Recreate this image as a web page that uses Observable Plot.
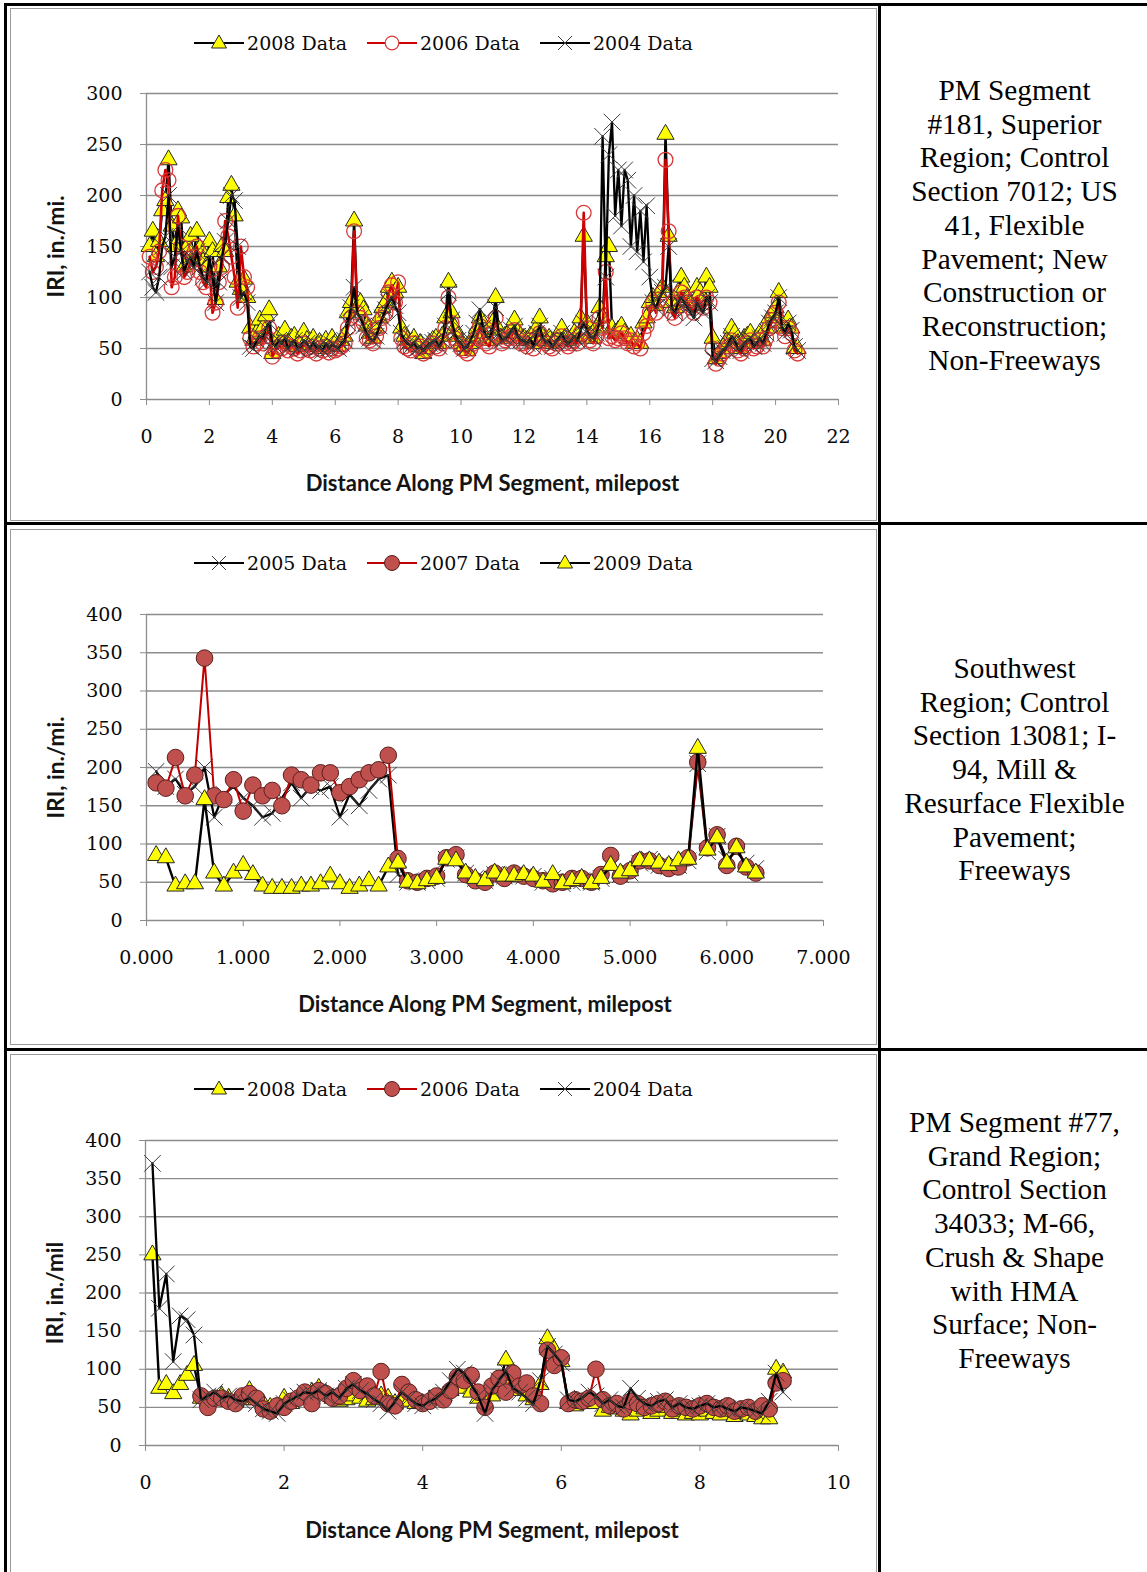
<!DOCTYPE html>
<html><head><meta charset="utf-8">
<script src="https://cdn.jsdelivr.net/npm/d3@7"></script>
<script src="https://cdn.jsdelivr.net/npm/@observablehq/plot@0.6"></script>
<style>
body{margin:0;background:#fff;}
#page{position:relative;width:1147px;height:1572px;overflow:hidden;background:#fff;}
.outer{position:absolute;left:4px;top:3px;width:1200px;height:1700px;border:3px solid #000;box-sizing:border-box;}
.vline{position:absolute;left:878px;top:3px;width:3px;height:1700px;background:#000;}
.hline{position:absolute;left:4px;width:1200px;height:3px;background:#000;}
.box{position:absolute;left:10px;width:867px;border:1px solid #9a9a9a;box-sizing:border-box;background:#fff;}
.legend{position:absolute;left:0;right:0;height:24px;display:flex;justify-content:center;align-items:center;font-family:"DejaVu Serif";font-size:19px;color:#0a0a0a;white-space:nowrap;}
.item{display:flex;align-items:center;margin:0 10px;}
.item svg{display:block;margin-right:3px;}
.plot{position:absolute;left:0;}
.desc{position:absolute;left:881px;width:267px;text-align:center;font-family:"Liberation Serif";font-size:29.3px;line-height:33.7px;color:#000;}
</style>
</head><body>
<div id="page">
  <div class="outer"></div>
  <div class="vline"></div>
  <div class="hline" style="top:522px"></div>
  <div class="hline" style="top:1048px"></div>
  <div class="box" id="box1" style="top:8px;height:513px"></div>
  <div class="box" id="box2" style="top:529px;height:516px"></div>
  <div class="box" id="box3" style="top:1054px;height:600px"></div>
  <div class="desc" style="top:74px">PM Segment<br>#181, Superior<br>Region; Control<br>Section 7012; US<br>41, Flexible<br>Pavement; New<br>Construction or<br>Reconstruction;<br>Non-Freeways</div>
  <div class="desc" style="top:652px">Southwest<br>Region; Control<br>Section 13081; I-<br>94, Mill &amp;<br>Resurface Flexible<br>Pavement;<br>Freeways</div>
  <div class="desc" style="top:1106px">PM Segment #77,<br>Grand Region;<br>Control Section<br>34033; M-66,<br>Crush &amp; Shape<br>with HMA<br>Surface; Non-<br>Freeways</div>
</div>
<script>
// ---------- Chart 1: PM Segment #181 (milepost 0.1 .. 20.7, every 0.1) ----------
const c1Labels = ["2008 Data", "2006 Data", "2004 Data"];
const c1XTicks = [0, 2, 4, 6, 8, 10, 12, 14, 16, 18, 20, 22];
const c1YTicks = [0, 50, 100, 150, 200, 250, 300];
const c1_2008 = [
 150,165,140,155,185,195,235,170,150,185,
 178,130,150,160,140,165,148,135,130,155,
 145,98,130,150,145,198,210,180,115,108,
 118,100,70,58,65,78,70,82,88,45,
 55,62,58,68,55,60,62,52,58,66,
 58,54,60,52,56,50,58,54,60,55,
 52,58,62,85,95,175,90,95,88,72,
 65,60,70,80,90,95,110,115,105,110,
 70,62,58,55,60,52,55,45,50,55,
 58,60,55,62,80,115,85,70,62,55,
 52,48,55,62,70,80,65,60,58,75,
 100,68,60,62,65,70,78,65,62,60,
 58,62,55,70,80,62,58,60,55,58,
 62,70,60,58,60,65,62,80,160,75,
 62,60,70,90,80,140,150,70,65,68,
 72,65,60,62,55,58,55,75,80,95,
 100,92,105,110,260,160,95,90,105,120,
 110,100,95,92,110,105,98,120,110,60,
 40,45,50,55,60,70,65,55,50,60,
 62,65,55,60,65,58,70,80,85,90,
 105,75,70,78,70,50,50];
const c1_2006 = [
 140,125,130,145,205,225,215,110,120,180,
 150,120,125,135,140,150,125,115,110,130,
 85,95,115,130,175,160,140,120,90,150,
 120,110,60,52,55,60,55,62,70,42,
 48,52,50,55,48,52,50,45,48,55,
 50,48,52,45,50,48,52,46,50,48,
 50,52,55,70,80,165,85,80,75,60,
 58,55,62,70,80,85,105,112,95,115,
 60,52,50,48,55,50,52,45,48,52,
 55,52,50,55,70,100,75,60,55,50,
 48,45,50,55,60,72,60,55,52,65,
 80,62,55,58,60,62,68,60,55,55,
 52,58,50,60,65,58,55,52,50,55,
 58,62,55,52,55,58,55,65,183,70,
 58,55,62,80,70,125,60,62,58,60,
 65,60,55,58,52,55,50,65,72,85,
 95,85,98,105,235,165,85,80,95,105,
 100,95,90,85,100,95,90,100,95,50,
 35,40,45,48,52,58,55,48,45,50,
 55,58,50,52,58,52,60,70,78,85,
 95,70,62,70,65,48,45];
const c1_2004 = [
 125,110,105,120,150,160,200,130,140,170,
 145,125,135,140,130,145,130,120,115,140,
 120,95,115,140,155,175,200,195,150,100,
 105,95,52,50,58,62,60,70,75,55,
 52,58,55,60,50,55,58,50,52,58,
 55,50,56,50,52,48,55,50,54,52,
 50,55,58,75,90,110,85,80,72,65,
 60,58,62,72,80,88,95,100,92,85,
 65,58,55,52,56,50,52,48,52,55,
 56,58,52,58,72,105,78,65,58,55,
 50,52,58,65,75,88,70,62,60,68,
 90,65,58,60,62,68,72,62,58,58,
 55,60,52,65,72,60,56,58,52,56,
 60,65,58,55,58,62,58,68,75,68,
 62,60,65,75,258,120,240,272,180,225,
 170,225,215,150,200,145,185,135,190,120,
 95,90,100,105,110,150,90,85,95,100,
 95,90,85,80,95,90,85,100,95,40,
 38,42,48,50,55,62,58,50,48,55,
 58,60,52,55,60,55,65,75,80,85,
 100,72,65,75,68,52,48];

// ---------- Chart 2: Southwest Region, CS 13081 (milepost 0.1 .. 6.3) ----------
const c2Labels = ["2005 Data", "2007 Data", "2009 Data"];
const c2XTicks = [0, 1, 2, 3, 4, 5, 6, 7];
const c2YTicks = [0, 50, 100, 150, 200, 250, 300, 350, 400];
const c2_2005 = [
 195,175,185,165,175,200,135,165,175,160,
 150,135,140,160,180,160,175,170,175,135,
 165,150,170,185,190,60,50,50,52,55,
 80,82,62,55,52,60,58,60,58,58,
 50,55,48,50,52,50,55,70,60,62,
 75,80,72,70,72,78,205,90,110,80,
 90,75,68];
const c2_2007 = [
 180,173,213,163,190,343,163,158,184,143,
 177,163,170,150,190,184,177,193,193,167,
 175,184,193,197,216,81,52,50,55,58,
 82,86,60,52,50,62,55,62,58,55,
 52,48,50,55,55,50,60,85,58,65,
 78,78,72,68,70,82,207,95,112,72,
 97,70,62];
const c2_2009 = [
 85,82,45,48,48,158,62,45,62,72,
 60,45,42,42,42,45,45,48,58,48,
 42,45,52,45,70,75,50,48,52,55,
 80,78,62,55,52,62,58,58,60,58,
 50,60,48,52,55,48,55,72,62,65,
 78,78,75,72,78,80,225,92,108,75,
 95,70,62];

// ---------- Chart 3: PM Segment #77 (milepost 0.1 .. 9.2) ----------
const c3Labels = ["2008 Data", "2006 Data", "2004 Data"];
const c3XTicks = [0, 2, 4, 6, 8, 10];
const c3YTicks = [0, 50, 100, 150, 200, 250, 300, 350, 400];
const c3_2008 = [
 250,75,80,68,80,92,105,62,58,60,
 65,62,58,60,72,60,55,50,48,62,
 55,62,65,70,75,68,62,58,60,65,
 62,58,60,65,62,55,60,58,55,55,
 60,62,65,72,80,75,70,62,55,65,
 80,112,85,72,65,60,80,140,125,110,
 55,52,55,58,55,45,50,48,45,40,
 45,48,42,45,50,42,45,40,42,40,
 45,42,40,45,38,42,40,38,35,35,
 100,95];
const c3_2006 = [
 null,null,null,null,null,null,null,65,50,62,
 62,58,55,65,68,62,48,45,52,50,
 58,62,70,55,72,68,62,65,75,85,
 72,78,65,97,55,52,80,70,60,55,
 58,65,60,72,90,85,92,70,50,78,
 88,70,95,78,82,65,55,125,105,115,
 55,60,58,62,100,60,52,55,48,58,
 55,50,52,55,58,48,52,50,48,52,
 55,50,48,52,45,48,50,45,52,48,
 82,85];
const c3_2004 = [
 370,180,225,110,170,165,145,60,65,70,
 62,65,60,58,62,55,48,45,42,55,
 60,65,70,68,72,65,70,62,75,80,
 72,68,60,55,45,58,70,62,55,52,
 58,62,70,85,100,95,80,65,42,72,
 85,98,75,70,62,55,85,130,120,108,
 60,58,62,70,65,55,60,52,50,75,
 62,55,52,58,60,50,55,50,48,52,
 55,50,52,48,45,50,48,45,42,58,
 95,70];

const xTitle = "Distance Along PM Segment, milepost";

// ---------- styles per marker type ----------
const STY = {
  tri:    {line: "#000000", lw: 2.4, sym: "triangle", r: 6.4, fill: "#FFFF00", stroke: "#262626", sw: 1},
  ocirc:  {line: "#D00000", lw: 2.6, sym: "circle",   r: 7.4, fill: "none",    stroke: "#D83a3a", sw: 1.3},
  fcirc:  {line: "#C00000", lw: 2,   sym: "circle",   r: 8.3, fill: "#C0504D", stroke: "#5a1e1c", sw: 1},
  times:  {line: "#000000", lw: 2.3, sym: "times",    r: 7.6, fill: "none",    stroke: "#3c3c3c", sw: 1}
};

function rows(ys) {
  return ys.map((y, i) => ({x: (i + 1) / 10, y})).filter(d => d.y != null);
}

function legendItem(label, kind) {
  const s = STY[kind];
  let m = "";
  if (kind === "tri") m = `<polygon points="25,3 32.5,16 17.5,16" fill="${s.fill}" stroke="${s.stroke}" stroke-width="1"/>`;
  else if (kind === "ocirc") m = `<circle cx="25" cy="11" r="6.8" fill="#fff" stroke="${s.stroke}" stroke-width="1.2"/>`;
  else if (kind === "fcirc") m = `<circle cx="25" cy="11" r="7.5" fill="${s.fill}" stroke="${s.stroke}" stroke-width="1"/>`;
  else m = `<path d="M18,4L32,18M32,4L18,18" stroke="${s.stroke}" stroke-width="1"/>`;
  return `<div class="item"><svg width="50" height="22"><line x1="0" x2="50" y1="11" y2="11" stroke="${s.line}" stroke-width="2"/>${m}</svg><span>${label}</span></div>`;
}

function makeChart(boxId, cfg) {
  const box = document.getElementById(boxId);
  const leg = document.createElement("div");
  leg.className = "legend";
  leg.style.top = cfg.legendTop + "px";
  leg.innerHTML = cfg.series.map(s => legendItem(s.label, s.kind)).join("");
  box.appendChild(leg);

  const marks = [
    Plot.gridY(cfg.yTicks, {stroke: "#8c8c8c", strokeOpacity: 1, strokeWidth: 1.3}),
    Plot.ruleX([cfg.xDomain[0]], {stroke: "#8c8c8c", strokeWidth: 1.3}),
    Plot.axisY(cfg.yTicks, {tickSize: 6, tickPadding: 18, stroke: "#8c8c8c", label: null, fill: "#0a0a0a"}),
    Plot.axisX(cfg.xTicks, {tickSize: 6, tickPadding: 24, stroke: "#8c8c8c", label: null, fill: "#0a0a0a",
      tickFormat: cfg.xFormat || (d => d)})
  ];
  for (const s of cfg.series) {
    const st = STY[s.kind];
    const data = rows(s.values);
    marks.push(Plot.line(data, {x: "x", y: "y", stroke: st.line, strokeWidth: st.lw}));
    marks.push(Plot.dot(data, {x: "x", y: "y", symbol: st.sym, r: st.r, fill: st.fill, stroke: st.stroke, strokeWidth: st.sw}));
  }
  marks.push(Plot.text([cfg.yLabel], {frameAnchor: "left", dx: cfg.yLabelDx, rotate: -90, text: d => d,
    fontFamily: "Lato", fontWeight: "bold", fontSize: 22.5, fill: "#141414", textAnchor: "middle", lineAnchor: "middle"}));
  marks.push(Plot.text([xTitle], {frameAnchor: "bottom", dy: cfg.xLabelDy, text: d => d,
    fontFamily: "Lato", fontWeight: "bold", fontSize: 22, fill: "#141414", textAnchor: "middle", lineAnchor: "middle"}));

  const svg = Plot.plot({
    width: cfg.width, height: cfg.height,
    marginTop: cfg.mt, marginBottom: cfg.mb, marginLeft: cfg.ml, marginRight: cfg.mr,
    x: {domain: cfg.xDomain},
    y: {domain: cfg.yDomain},
    style: {fontFamily: "DejaVu Serif", fontSize: "19px", color: "#0a0a0a", background: "transparent", overflow: "visible"},
    marks
  });
  const wrap = document.createElement("div");
  wrap.className = "plot";
  wrap.style.top = cfg.svgTop + "px";
  wrap.appendChild(svg);
  box.appendChild(wrap);
}

// box content: left at page x 11
makeChart("box1", {
  legendTop: 22, svgTop: 61, width: 865, height: 430,
  mt: 23, mb: 101, ml: 135, mr: 38,
  xDomain: [0, 22], yDomain: [0, 300], xTicks: c1XTicks, yTicks: c1YTicks,
  yLabel: "IRI, in./mi.", yLabelDx: -90, xLabelDy: 84,
  series: [
    {label: c1Labels[0], kind: "tri", values: c1_2008},
    {label: c1Labels[1], kind: "ocirc", values: c1_2006},
    {label: c1Labels[2], kind: "times", values: c1_2004}
  ]
});
makeChart("box2", {
  legendTop: 21, svgTop: 60, width: 865, height: 430,
  mt: 24, mb: 100, ml: 135, mr: 53,
  xDomain: [0, 7], yDomain: [0, 400], xTicks: c2XTicks, yTicks: c2YTicks, xFormat: d3.format(".3f"),
  yLabel: "IRI, in./mi.", yLabelDx: -90, xLabelDy: 84,
  series: [
    {label: c2Labels[0], kind: "times", values: c2_2005},
    {label: c2Labels[1], kind: "fcirc", values: c2_2007},
    {label: c2Labels[2], kind: "tri", values: c2_2009}
  ]
});
makeChart("box3", {
  legendTop: 22, svgTop: 61, width: 865, height: 430,
  mt: 24, mb: 101, ml: 134, mr: 38,
  xDomain: [0, 10], yDomain: [0, 400], xTicks: c3XTicks, yTicks: c3YTicks,
  yLabel: "IRI, in./mil", yLabelDx: -90, xLabelDy: 85,
  series: [
    {label: c3Labels[0], kind: "tri", values: c3_2008},
    {label: c3Labels[1], kind: "fcirc", values: c3_2006},
    {label: c3Labels[2], kind: "times", values: c3_2004}
  ]
});
</script>
</body></html>
